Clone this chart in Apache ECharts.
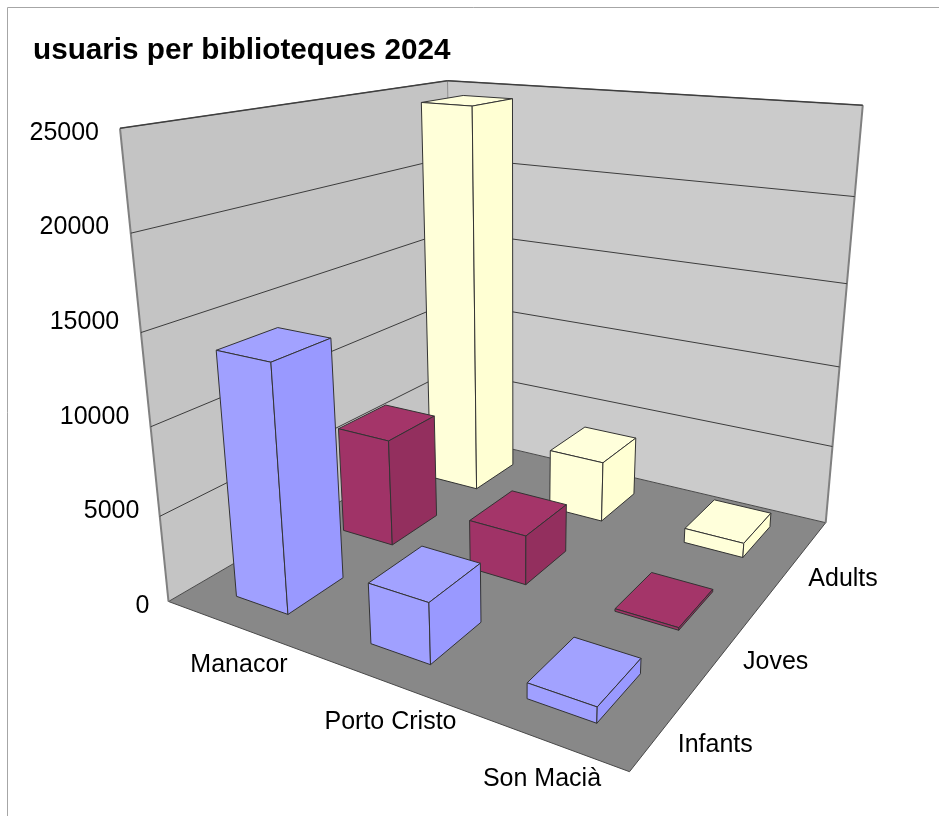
<!DOCTYPE html>
<html style="height: 100%">
<head>
<meta charset="utf-8">
<style type="text/css">
* { margin: 0; padding: 0; }
</style>
</head>
<body style="height: 100%; margin: 0; background: #fff">
<div id="main" style="width: 939px; height: 816px"></div>
<script type="text/javascript" src="https://cdn.jsdelivr.net/npm/echarts@6/dist/echarts.min.js"></script>
<script type="text/javascript">
var categories = ['Manacor', 'Porto Cristo', 'Son Macià'];
var seriesNames = ['Infants', 'Joves', 'Adults'];
var infants = [13900, 3400, 850];
var joves = [6550, 2950, 150];
var adults = [24400, 3850, 900];
var yTicks = [0, 5000, 10000, 15000, 20000, 25000];
var yMax = 25000;

// colours per series: top, front, side
var faceColors = [
    ['#a2a2ff', '#a0a0ff', '#9999ff'],
    ['#a43569', '#a03367', '#932f5e'],
    ['#ffffdb', '#ffffd9', '#ffffd3']
];

// the 3d box as seen on screen
var floorLeft = [168.5, 601.5], floorFront = [629.5, 771.7], floorRight = [825.7, 522.7], floorBack = [453.8, 435.4];
var topLeft = [120, 128.3], topRight = [862.7, 106];
var barWidth = 0.4, barDepth = 0.5;
var font = '25px "Liberation Sans", Arial, sans-serif';

// build projection: u along front edge, v towards the back, w up
var m = (function () {
    var x0 = floorLeft[0], y0 = floorLeft[1], x1 = floorFront[0], y1 = floorFront[1];
    var x2 = floorRight[0], y2 = floorRight[1], x3 = floorBack[0], y3 = floorBack[1];
    var dx1 = x1 - x2, dx2 = x3 - x2, sx = x0 - x1 + x2 - x3;
    var dy1 = y1 - y2, dy2 = y3 - y2, sy = y0 - y1 + y2 - y3;
    var den = dx1 * dy2 - dx2 * dy1;
    var g = (sx * dy2 - dx2 * sy) / den;
    var h = (dx1 * sy - sx * dy1) / den;
    // vanishing point of the verticals
    var ax = topLeft[0] - x0, ay = topLeft[1] - y0, bx = topRight[0] - x2, by = topRight[1] - y2;
    var t = ((x2 - x0) * by - (y2 - y0) * bx) / (ax * by - ay * bx);
    var vx = x0 + t * ax, vy = y0 + t * ay;
    var k = (y0 - topLeft[1]) / (topLeft[1] - vy);
    return [
        [x1 - x0 + g * x1, x3 - x0 + h * x3, k * vx, x0],
        [y1 - y0 + g * y1, y3 - y0 + h * y3, k * vy, y0],
        [g, h, k, 1]
    ];
})();

function project(u, v, w) {
    var d = m[2][0] * u + m[2][1] * v + m[2][2] * w + 1;
    return [
        (m[0][0] * u + m[0][1] * v + m[0][2] * w + m[0][3]) / d,
        (m[1][0] * u + m[1][1] * v + m[1][2] * w + m[1][3]) / d
    ];
}

function heightOf(val) {
    return echarts.number.linearMap(val, [0, yMax], [0, 1]);
}

function poly(points, fill, stroke, lineWidth) {
    return {
        type: 'polygon',
        shape: { points: points },
        style: { fill: fill, stroke: stroke || null, lineWidth: lineWidth || 1, lineJoin: 'round' }
    };
}

function line(a, b, stroke, lineWidth) {
    return {
        type: 'line',
        shape: { x1: a[0], y1: a[1], x2: b[0], y2: b[1] },
        style: { stroke: stroke, lineWidth: lineWidth }
    };
}

function label(text, x, y, align) {
    return {
        type: 'text',
        style: { text: text, x: x, y: y, font: font, fill: '#000', align: align, verticalAlign: 'middle' }
    };
}

function renderBox() {
    var a = project(0, 0, 0), b = project(0, 1, 0), c = project(1, 1, 0), d = project(1, 0, 0);
    var ta = project(0, 0, 1), tb = project(0, 1, 1), tc = project(1, 1, 1);
    return {
        type: 'group',
        children: [
            poly([a, b, tb, ta], '#c4c4c4'),
            poly([b, c, tc, tb], '#cbcbcb'),
            poly([a, b, c, d], '#888888', '#4a4a4a', 1),
            line(b, tb, '#8c8c8c', 1),
            line(a, ta, '#808080', 2),
            line(c, tc, '#808080', 2),
            line(ta, tb, '#555555', 1.5),
            line(tb, tc, '#555555', 1.5)
        ]
    };
}

function renderGrid(params, api) {
    var w = heightOf(api.value(2));
    if (w === 0) {
        return;
    }
    return {
        type: 'group',
        children: [
            line(project(0, 0, w), project(0, 1, w), '#3c3c3c', 1),
            line(project(0, 1, w), project(1, 1, w), '#3c3c3c', 1)
        ]
    };
}

function renderBar(params, api) {
    var p = api.coord([api.value(0), api.value(1)]);
    var u = p[0] / api.getWidth();
    var v = 1 - p[1] / api.getHeight();
    var w = heightOf(api.value(2));
    var hu = barWidth / categories.length / 2;
    var hv = barDepth / seriesNames.length / 2;
    var colors = faceColors[api.value(1)];
    var u0 = u - hu, u1 = u + hu, v0 = v - hv, v1 = v + hv;
    var stroke = '#333333';
    return {
        type: 'group',
        children: [
            poly([project(u0, v0, w), project(u1, v0, w), project(u1, v1, w), project(u0, v1, w)], colors[0], stroke, 1),
            poly([project(u0, v0, 0), project(u1, v0, 0), project(u1, v0, w), project(u0, v0, w)], colors[1], stroke, 1),
            poly([project(u1, v0, 0), project(u1, v1, 0), project(u1, v1, w), project(u1, v0, w)], colors[2], stroke, 1)
        ]
    };
}

// the labels sit on their own sheared axes, not on the box
function renderTickLabel(params, api) {
    var val = api.value(2);
    var x = echarts.number.linearMap(val, [0, yMax], [149.5, 99]);
    var y = echarts.number.linearMap(val, [0, yMax], [606, 133]);
    return label(String(val), x, y, 'right');
}

function renderCategoryLabel(params, api) {
    var i = api.value(0);
    var x = echarts.number.linearMap(i, [0, categories.length - 1], [239, 542]);
    var y = echarts.number.linearMap(i, [0, categories.length - 1], [665, 779]);
    return label(categories[i], x, y, 'center');
}

function renderSeriesLabel(params, api) {
    var j = api.value(1);
    var x = echarts.number.linearMap(j, [0, seriesNames.length - 1], [677.7, 808.3]);
    var y = echarts.number.linearMap(j, [0, seriesNames.length - 1], [745, 579]);
    return label(seriesNames[j], x, y, 'left');
}

// back rows first, so nearer bars cover them
var values = [infants, joves, adults];
var barData = [];
for (var j = seriesNames.length - 1; j >= 0; j--) {
    for (var i = 0; i < categories.length; i++) {
        barData.push([i, j, values[j][i]]);
    }
}

var myChart = echarts.init(document.getElementById('main'));
myChart.setOption({
    animation: false,
    backgroundColor: '#ffffff',
    title: {
        text: 'usuaris per biblioteques 2024',
        left: 28,
        top: 31,
        textStyle: { fontFamily: '"Liberation Sans", Arial, sans-serif', fontWeight: 'bold', fontSize: 29.7, color: '#000' }
    },
    graphic: [{
        type: 'rect',
        shape: { x: 7.5, y: 7.5, width: 1000, height: 1000 },
        style: { fill: null, stroke: '#a6a6a6', lineWidth: 1 },
        silent: true
    }],
    grid: { left: 0, right: 0, top: 0, bottom: 0 },
    xAxis: { type: 'category', data: categories, show: false },
    yAxis: { type: 'category', data: seriesNames, show: false },
    series: [
        { type: 'custom', silent: true, clip: false, renderItem: renderBox, data: [[0, 0, 0]] },
        { type: 'custom', silent: true, clip: false, renderItem: renderGrid, data: yTicks.map(function (t) { return [0, 0, t]; }) },
        { type: 'custom', silent: true, clip: false, renderItem: renderBar, data: barData },
        { type: 'custom', silent: true, clip: false, renderItem: renderTickLabel, data: yTicks.map(function (t) { return [0, 0, t]; }) },
        { type: 'custom', silent: true, clip: false, renderItem: renderCategoryLabel, data: categories.map(function (c, i) { return [i, 0, 0]; }) },
        { type: 'custom', silent: true, clip: false, renderItem: renderSeriesLabel, data: seriesNames.map(function (s, j) { return [0, j, 0]; }) }
    ]
});
</script>
</body>
</html>
